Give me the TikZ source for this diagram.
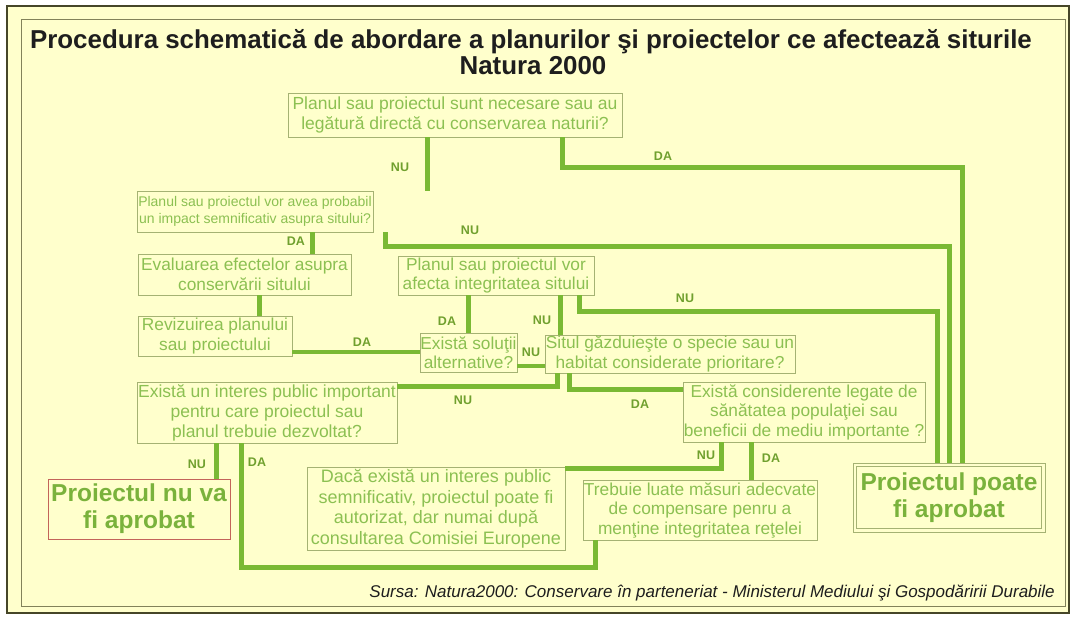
\documentclass[tikz,border=0pt]{standalone}
\usepackage{fontspec}
\setmainfont{Liberation Sans}
\definecolor{bg}{RGB}{255,255,204}
\definecolor{linegreen}{RGB}{122,185,52}
\definecolor{txtgreen}{RGB}{140,192,82}
\definecolor{lblgreen}{RGB}{112,160,46}
\definecolor{boxline}{RGB}{165,178,115}
\definecolor{bigtxt}{RGB}{122,178,60}
\definecolor{frameout}{RGB}{70,70,40}
\definecolor{framein}{RGB}{130,130,90}
\definecolor{redbox}{RGB}{195,100,90}
\definecolor{titletxt}{RGB}{30,30,30}
\newcommand\fsz[2]{\fontsize{#1}{#2}\selectfont}
\tikzset{
  box/.style={draw=boxline, line width=0.9pt, inner sep=0pt, align=center, text=txtgreen},
  bigbox/.style={inner sep=0pt, align=center, text=bigtxt, font=\bfseries\fsz{24.5}{27}},
  conn/.style={draw=linegreen, line width=4.5pt, line join=miter},
  lbl/.style={text=lblgreen, font=\bfseries\fsz{12.5}{14}, inner sep=0pt},
  titlestyle/.style={text=titletxt, font=\bfseries\fsz{25.9}{30}, inner sep=0pt, anchor=base}
}
\begin{document}
\begin{tikzpicture}[x=1pt,y=-1pt]
\useasboundingbox (0,0) rectangle (1072,621);
\fill[white] (0,0) rectangle (1072,621);
\fill[bg] (7,6) rectangle (1069,613);
\draw[framein, line width=1pt] (21,19) rectangle (1065,606);
\draw[frameout, line width=1.4pt] (7,6) rectangle (1069,613);

% title
\node[titlestyle] (t1) at (531,48) {Procedura schematică de abordare a planurilor şi proiectelor ce afectează siturile};
\node[titlestyle] (t2) at (533,74) {Natura 2000};

% boxes
\node[box, minimum width=334pt, minimum height=44pt, font=\fsz{17.5}{20}] (n1) at (455,115)
  {Planul sau proiectul sunt necesare sau au\\legătură directă cu conservarea naturii?};
\node[box, minimum width=236pt, minimum height=41pt, font=\fsz{14}{17}] (n2) at (255,211.5)
  {Planul sau proiectul vor avea probabil\\un impact semnificativ asupra sitului?};
\node[box, minimum width=213pt, minimum height=41pt, font=\fsz{17.3}{19.5}] (n3) at (244.5,274.5)
  {Evaluarea efectelor asupra\\conservării sitului};
\node[box, minimum width=154pt, minimum height=40pt, font=\fsz{17.3}{19.5}] (n4) at (215,336)
  {Revizuirea planului\\sau proiectului};
\node[box, minimum width=196pt, minimum height=39pt, font=\fsz{17.3}{19.5}] (n5) at (496,275.5)
  {Planul sau proiectul vor\\afecta integritatea sitului};
\node[box, minimum width=97pt, minimum height=39pt, font=\fsz{17.3}{19.5}] (n6) at (468.5,352.5)
  {Există soluţii\\alternative?};
\node[box, minimum width=250pt, minimum height=38pt, font=\fsz{17.3}{19.5}] (n7) at (670,354)
  {Situl găzduieşte o specie sau un\\habitat considerate prioritare?};
\node[box, minimum width=260pt, minimum height=61pt, font=\fsz{17.5}{20}] (n8) at (267,412.5)
  {Există un interes public important\\pentru care proiectul sau\\planul trebuie dezvoltat?};
\node[box, minimum width=242pt, minimum height=60pt, font=\fsz{17.3}{19.5}] (n9) at (804,412)
  {Există considerente legate de\\sănătatea populaţiei sau\\beneficii de mediu importante ?};
\node[box, minimum width=258pt, minimum height=83pt, font=\fsz{18}{20.5}] (n10) at (436,508.5)
  {Dacă există un interes public\\semnificativ, proiectul poate fi\\autorizat, dar numai după\\consultarea Comisiei Europene};
\node[box, minimum width=234pt, minimum height=60pt, font=\fsz{17.3}{19.5}] (n11) at (700,510)
  {Trebuie luate măsuri adecvate\\de compensare penru a\\menţine integritatea reţelei};
\node[bigbox, draw=redbox, line width=0.9pt, minimum width=182pt, minimum height=60pt] (n12) at (139,509)
  {Proiectul nu va\\fi aprobat};
\node[bigbox, draw=boxline, line width=0.9pt, minimum width=192pt, minimum height=69pt] (n13) at (949,497.5)
  {Proiectul poate\\fi aprobat};
\draw[boxline, line width=0.9pt] ([shift={(4pt,-4pt)}]n13.north west) rectangle ([shift={(-4pt,4pt)}]n13.south east);

% connectors
\draw[conn] ([xshift=140pt]n1.south west) -- ([xshift=140pt]n1.south west |- n2.north);
\draw[conn] ([xshift=275pt]n1.south west) -- ++(0,30) -| ([xshift=110pt]n13.north west);
\draw[conn] ([xshift=176pt]n2.south west) -- ([xshift=176pt]n2.south west |- n3.north);
\draw[conn] ([xshift=249pt]n2.south west) -- ++(0,14) -| ([xshift=97pt]n13.north west);
\draw[conn] ([xshift=122pt]n3.south west) -- ([xshift=122pt]n3.south west |- n4.north);
\draw[conn] ([yshift=-16pt]n4.east) -- ([yshift=-16pt]n4.east -| n6.west);
\draw[conn] ([xshift=71pt]n5.south west) -- ([xshift=71pt]n5.south west |- n6.north);
\draw[conn] ([xshift=163pt]n5.south west) -- ([xshift=163pt]n5.south west |- n7.north);
\draw[conn] ([xshift=182pt]n5.south west) -- ++(0,16) -| ([xshift=85pt]n13.north west);
\draw[conn] ([yshift=-13.5pt]n6.east) -- ([yshift=-13.5pt]n6.east -| n7.west);
\draw[conn] ([xshift=13pt]n7.south west) |- ([yshift=-5pt]n8.north east);
\draw[conn] ([xshift=25pt]n7.south west) |- ([yshift=-8pt]n9.north west);
\draw[conn] ([xshift=80pt]n8.south west) -- ([xshift=80pt]n8.south west |- n12.north);
\draw[conn] ([xshift=105pt]n8.south west) -- ++(0,124) -| ([xshift=13pt]n11.south west);
\draw[conn] ([xshift=39pt]n9.south west) |- ([yshift=-2pt]n10.north east);
\draw[conn] ([xshift=69pt]n9.south west) -- ([xshift=69pt]n9.south west |- n11.north);

% labels
\node[lbl] (l1) at (400,167) {NU};
\node[lbl] (l2) at (663,156) {DA};
\node[lbl] (l3) at (296,241) {DA};
\node[lbl] (l4) at (470,230) {NU};
\node[lbl] (l5) at (362,342) {DA};
\node[lbl] (l6) at (447,321) {DA};
\node[lbl] (l7) at (542,320) {NU};
\node[lbl] (l8) at (685,298) {NU};
\node[lbl] (l9) at (531,352) {NU};
\node[lbl] (l10) at (463,400) {NU};
\node[lbl] (l11) at (640,404) {DA};
\node[lbl] (l12) at (197,464) {NU};
\node[lbl] (l13) at (257,462) {DA};
\node[lbl] (l14) at (706,455) {NU};
\node[lbl] (l15) at (771,458) {DA};

% source
\node[anchor=base east, inner sep=0pt, text=titletxt, font=\itshape\fsz{17}{20}] (src) at (1055,597)
  {Sursa: Natura2000: Conservare în parteneriat - Ministerul Mediului şi Gospodăririi Durabile};
\end{tikzpicture}
\end{document}
